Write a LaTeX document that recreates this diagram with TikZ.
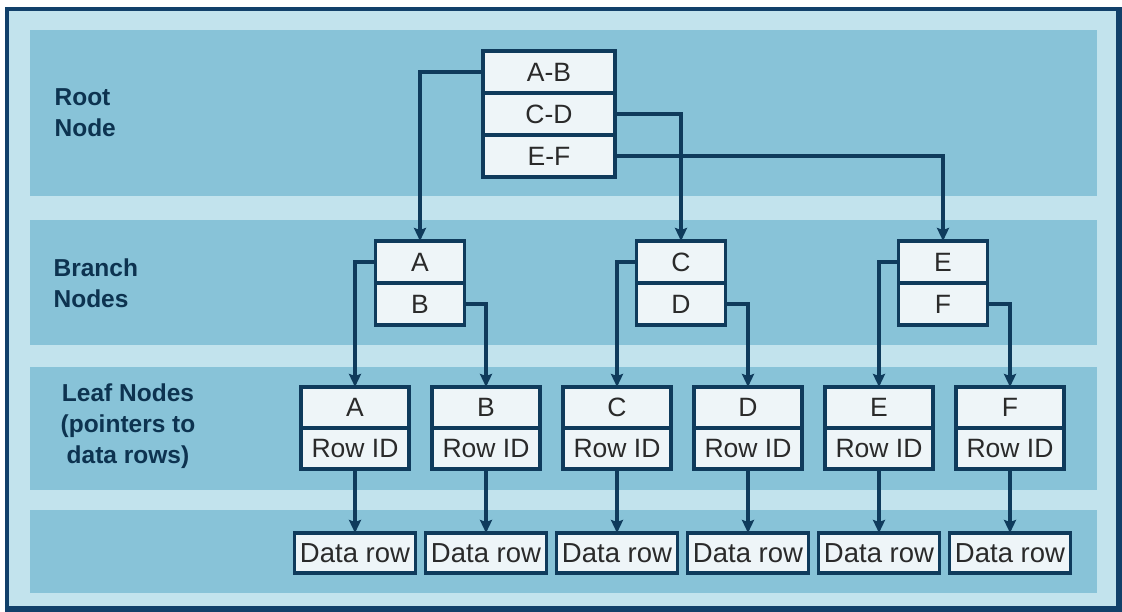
\documentclass[tikz,border=0pt]{standalone}
\usepackage{fontspec}
\setmainfont{Liberation Sans}
\usepackage{tikz}
\usetikzlibrary{arrows.meta}
\usetikzlibrary{positioning}
\definecolor{framenavy}{HTML}{11406A}
\definecolor{framelight}{HTML}{C2E3ED}
\definecolor{bandblue}{HTML}{88C3D8}
\definecolor{linenavy}{HTML}{0F3B5C}
\definecolor{cellfill}{HTML}{EEF5F8}
\definecolor{celltext}{HTML}{2A2A2A}
\definecolor{lbltext}{HTML}{0D3350}
\newcommand\cellfont{\fontsize{26.5}{30}\selectfont}
\newcommand\datafont{\fontsize{27.5}{30}\selectfont}
\newcommand\lblfont{\bfseries\fontsize{24.5}{31}\selectfont}
\tikzset{link/.style={draw=linenavy,line width=3.2pt,-{Stealth[length=13pt,width=12pt,inset=2pt]}}}
\begin{document}
\begin{tikzpicture}[x=1pt,y=-1pt,line width=3.2pt,node distance=0pt]
\tikzstyle{cell} = [rectangle, draw=linenavy, fill=cellfill, text=celltext, inner sep=0pt, outer sep=0pt, font=\cellfont]
\tikzstyle{rootcell} = [cell, minimum width=132pt, minimum height=42pt]
\tikzstyle{branchcell} = [cell, minimum width=89pt, minimum height=42pt]
\tikzstyle{leafcell} = [cell, minimum width=108pt, minimum height=41pt]
\tikzstyle{datacell} = [cell, minimum width=121pt, minimum height=40pt, font=\datafont]
\tikzstyle{level} = [text=lbltext, font=\lblfont, inner sep=0pt]

\useasboundingbox (0,0) rectangle (1122,612);

% frame and bands
\fill[framenavy] (5,7) rectangle (1122,612);
\fill[framelight] (9,11) rectangle (1116,606);
\fill[bandblue] (30,30) rectangle (1097,196);
\fill[bandblue] (30,220) rectangle (1097,345);
\fill[bandblue] (30,367) rectangle (1097,490);
\fill[bandblue] (30,510) rectangle (1097,593);

% level labels
\node[level, anchor=west, align=left] (ROOTLBL) at (53,113) {Root\\Node};
\node[level, anchor=west, align=left] (BRANCHLBL) at (52,283) {Branch\\Nodes};
\node[level, align=center] (LEAFLBL) at (128,426) {Leaf Nodes\\(pointers to\\data rows)};

% root node
\node[rootcell] (RAB) at (549,72) {A-B};
\node[rootcell] (RCD) [below=of RAB] {C-D};
\node[rootcell] (REF) [below=of RCD] {E-F};

% branch nodes
\node[branchcell] (BA) at (420,262) {A};
\node[branchcell] (BB) [below=of BA] {B};
\node[branchcell] (BC) at (681,262) {C};
\node[branchcell] (BD) [below=of BC] {D};
\node[branchcell] (BE) at (943,262) {E};
\node[branchcell] (BF) [below=of BE] {F};

% leaf nodes
\node[leafcell] (LA) at (355,407.5) {A};
\node[leafcell] (LB) [right=23pt of LA] {B};
\node[leafcell] (LC) [right=23pt of LB] {C};
\node[leafcell] (LD) [right=23pt of LC] {D};
\node[leafcell] (LE) [right=23pt of LD] {E};
\node[leafcell] (LF) [right=23pt of LE] {F};
\foreach \k in {A,B,C,D,E,F}
{
   \node[leafcell] (ID\k) [below=of L\k] {Row ID};
   \node[datacell] (DATA\k) [below=64pt of ID\k] {Data row};
   \path[link] (ID\k) -- (DATA\k);
}

\path[link] (RAB.west) -| (BA.north);
\path[link] (RCD.east) -| (BC.north);
\path[link] (REF.east) -| (BE.north);

\path[link] (BA.west) -| (LA.north);
\path[link] (BB.east) -| (LB.north);
\path[link] (BC.west) -| (LC.north);
\path[link] (BD.east) -| (LD.north);
\path[link] (BE.west) -| (LE.north);
\path[link] (BF.east) -| (LF.north);
\end{tikzpicture}
\end{document}
